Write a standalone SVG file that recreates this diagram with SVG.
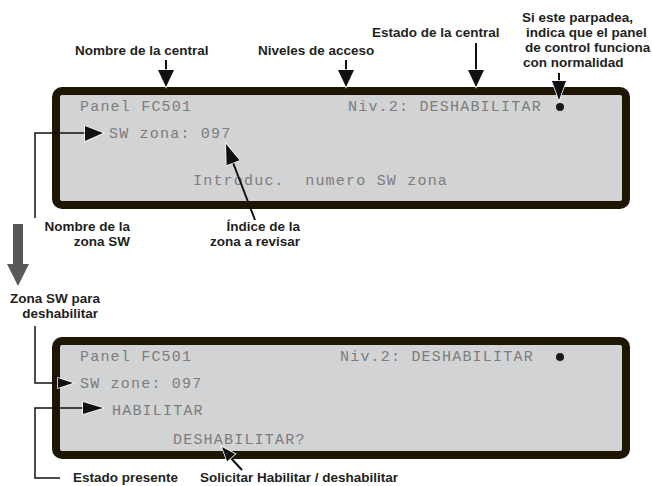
<svg xmlns="http://www.w3.org/2000/svg" width="652" height="486" viewBox="0 0 652 486">
<style>
.panel{fill:#d2d3d5;stroke:#1e1503;stroke-width:8}
.lcd{font-family:"Liberation Mono","DejaVu Sans Mono",monospace;font-size:15px;letter-spacing:1.2px;fill:#7c7c7c}
.lbl{font-family:"Liberation Sans",Arial,sans-serif;font-weight:bold;font-size:13.5px;fill:#231f20}
.end{text-anchor:end}
.ln{fill:none;stroke:#111;stroke-width:1.5}
.sh{fill:none;stroke:#111;stroke-width:2}
.hd{fill:#111;stroke:#fff;stroke-width:1.5;paint-order:stroke}
.dot{fill:#1a1a1a}
</style>
<rect width="652" height="486" fill="#fff"/>
<g id="panel-top">
<rect class="panel" x="56" y="91" width="570" height="114" rx="6"/>
<text class="lcd" x="80" y="111">Panel FC501</text>
<text class="lcd" x="348" y="111">Niv.2: DESHABILITAR</text>
<circle class="dot" cx="560" cy="107" r="4"/>
<text class="lcd" x="109" y="138">SW zona: 097</text>
<text class="lcd" x="193" y="185" xml:space="preserve">Introduc.  numero SW zona</text>
</g>
<g id="panel-bottom">
<rect class="panel" x="56" y="341" width="570" height="114" rx="6"/>
<text class="lcd" x="80" y="361">Panel FC501</text>
<text class="lcd" x="340" y="361">Niv.2: DESHABILITAR</text>
<circle class="dot" cx="560" cy="357" r="4"/>
<text class="lcd" x="80" y="388">SW zone: 097</text>
<text class="lcd" x="112" y="415">HABILITAR</text>
<text class="lcd" x="173" y="444">DESHABILITAR?</text>
</g>
<g id="label-nombre-central"><text class="lbl" x="75" y="55">Nombre de la central</text></g>
<g id="label-niveles"><text class="lbl" x="258" y="55">Niveles de acceso</text></g>
<g id="label-estado-central"><text class="lbl" x="372" y="37">Estado de la central</text></g>
<g id="label-parpadea">
<text class="lbl" x="522" y="22">Si este parpadea,</text>
<text class="lbl" x="526" y="37">indica que el panel</text>
<text class="lbl" x="525" y="52">de control funciona</text>
<text class="lbl" x="523" y="67">con normalidad</text>
</g>
<g id="label-nombre-zona">
<text class="lbl end" x="130" y="231">Nombre de la</text>
<text class="lbl end" x="130" y="246">zona SW</text>
</g>
<g id="label-indice">
<text class="lbl end" x="300" y="231">Índice de la</text>
<text class="lbl end" x="300" y="246">zona a revisar</text>
</g>
<g id="label-zona-deshab">
<text class="lbl" x="10" y="303">Zona SW para</text>
<text class="lbl end" x="98" y="318">deshabilitar</text>
</g>
<g id="label-estado-presente"><text class="lbl" x="73" y="482">Estado presente</text></g>
<g id="label-solicitar"><text class="lbl" x="200" y="482">Solicitar Habilitar / deshabilitar</text></g>
<g id="connectors">
<line class="sh" x1="166" y1="60" x2="166" y2="72"/>
<polygon class="hd" points="158,70 174,70 166,87"/>
<line class="sh" x1="346" y1="60" x2="346" y2="72"/>
<polygon class="hd" points="338,70 354,70 346,87"/>
<line class="sh" x1="476" y1="43" x2="476" y2="72"/>
<polygon class="hd" points="468,70 484,70 476,87"/>
<line class="sh" x1="559" y1="73" x2="559" y2="83"/>
<polygon class="hd" points="552,81 566,81 559,100"/>
<polyline class="ln" points="35,218 35,133 88,133"/>
<polygon class="hd" points="85,126 85,141 103,133"/>
<line class="sh" x1="255" y1="220" x2="232" y2="160"/>
<polygon class="hd" points="226,144 239.6,160.2 226.6,165.2"/>
<polygon points="13,224 23,224 23,264 29,264 18,286 7,264 13,264" fill="#58585a"/>
<polyline class="ln" points="35,326 35,383 60,383"/>
<polygon class="hd" points="58,378 58,388 73,383"/>
<polyline class="ln" points="60,478 35,478 35,408 86,408"/>
<polygon class="hd" points="83,402 83,414 103,408"/>
<line class="sh" x1="242" y1="470" x2="229" y2="456"/>
<polygon class="hd" points="222,447 235.3,454 227.1,461.2"/>
</g>
</svg>
